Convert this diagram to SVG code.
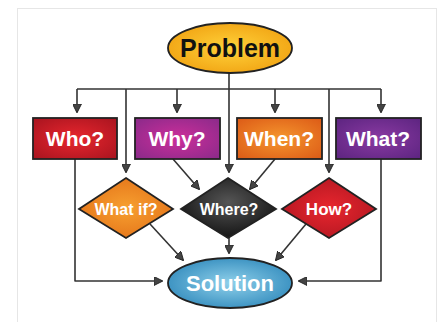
<svg xmlns="http://www.w3.org/2000/svg" width="441" height="322" viewBox="0 0 441 322">
<defs>
<marker id="ah" viewBox="0 0 10 10" refX="9" refY="5" markerWidth="9" markerHeight="9" markerUnits="userSpaceOnUse" orient="auto">
<path d="M0,0 L10,5 L0,10 Z" fill="#444" stroke="#222" stroke-width="1"/>
</marker>
<radialGradient id="gProb" cx="0.5" cy="0.5" r="0.6"><stop offset="0" stop-color="#ffd23a"/><stop offset="1" stop-color="#f0a010"/></radialGradient>
<radialGradient id="gSol" cx="0.5" cy="0.5" r="0.6"><stop offset="0" stop-color="#8fd0ea"/><stop offset="1" stop-color="#2e88bb"/></radialGradient>
<radialGradient id="gWho" cx="0.5" cy="0.5" r="0.7"><stop offset="0" stop-color="#e8262e"/><stop offset="1" stop-color="#a8141f"/></radialGradient>
<radialGradient id="gWhy" cx="0.5" cy="0.5" r="0.7"><stop offset="0" stop-color="#cc2e9a"/><stop offset="1" stop-color="#8a2a8a"/></radialGradient>
<radialGradient id="gWhen" cx="0.5" cy="0.5" r="0.7"><stop offset="0" stop-color="#f5962e"/><stop offset="1" stop-color="#dc5a16"/></radialGradient>
<radialGradient id="gWhat" cx="0.5" cy="0.5" r="0.7"><stop offset="0" stop-color="#8a3aa2"/><stop offset="1" stop-color="#5c2480"/></radialGradient>
<radialGradient id="gWif" cx="0.5" cy="0.5" r="0.7"><stop offset="0" stop-color="#f7a030"/><stop offset="1" stop-color="#e06a14"/></radialGradient>
<radialGradient id="gWhere" cx="0.5" cy="0.4" r="0.7"><stop offset="0" stop-color="#555"/><stop offset="1" stop-color="#0a0a0a"/></radialGradient>
<radialGradient id="gHow" cx="0.5" cy="0.5" r="0.7"><stop offset="0" stop-color="#e8262e"/><stop offset="1" stop-color="#a8141f"/></radialGradient>
</defs>
<style>
.ln{fill:none;stroke:#333;stroke-width:1.6;stroke-linejoin:round}
.shape{stroke:#222;stroke-width:1.8}
.t{font-family:"Liberation Sans",Arial,sans-serif;font-weight:bold;text-anchor:middle;fill:#fff}
</style>
<rect x="17.5" y="8.5" width="419" height="320" fill="#fff" stroke="#e6e6e6"/>
<g id="connectors">
<path class="ln" d="M229,73 V89"/>
<path class="ln" d="M77,89 H381"/>
<path class="ln" d="M77,89 V112" marker-end="url(#ah)"/>
<path class="ln" d="M177,89 V112" marker-end="url(#ah)"/>
<path class="ln" d="M275,89 V112" marker-end="url(#ah)"/>
<path class="ln" d="M381,89 V112" marker-end="url(#ah)"/>
<path class="ln" d="M126,89 V172" marker-end="url(#ah)"/>
<path class="ln" d="M229,89 V172" marker-end="url(#ah)"/>
<path class="ln" d="M329,89 V172" marker-end="url(#ah)"/>
<path class="ln" d="M173,159 L199,189" marker-end="url(#ah)"/>
<path class="ln" d="M275,159 L250,189" marker-end="url(#ah)"/>
<path class="ln" d="M150,224 L183,260" marker-end="url(#ah)"/>
<path class="ln" d="M229,237 V253" marker-end="url(#ah)"/>
<path class="ln" d="M306,224 L276,260" marker-end="url(#ah)"/>
<path class="ln" d="M75,159 V281 H162" marker-end="url(#ah)"/>
<path class="ln" d="M381,159 V281 H299" marker-end="url(#ah)"/>
</g>
<g id="problem">
<ellipse class="shape" cx="230" cy="48" rx="62" ry="25" fill="url(#gProb)"/>
<text class="t" x="230" y="57" font-size="25" style="fill:#111">Problem</text>
</g>
<g id="who">
<rect class="shape" x="33" y="118" width="84" height="41" fill="url(#gWho)"/>
<text class="t" x="75" y="146" font-size="21">Who?</text>
</g>
<g id="why">
<rect class="shape" x="135" y="118" width="85" height="41" fill="url(#gWhy)"/>
<text class="t" x="177" y="146" font-size="21">Why?</text>
</g>
<g id="when">
<rect class="shape" x="237" y="118" width="85" height="41" fill="url(#gWhen)"/>
<text class="t" x="279" y="146" font-size="21">When?</text>
</g>
<g id="what">
<rect class="shape" x="336" y="118" width="85" height="41" fill="url(#gWhat)"/>
<text class="t" x="378" y="146" font-size="21">What?</text>
</g>
<g id="whatif">
<polygon class="shape" points="126,178 173,209 126,238 79,209" fill="url(#gWif)"/>
<text class="t" x="126" y="215" font-size="16">What if?</text>
</g>
<g id="where">
<polygon class="shape" points="228,178 276,209 228,238 181,209" fill="url(#gWhere)"/>
<text class="t" x="229" y="215" font-size="16">Where?</text>
</g>
<g id="how">
<polygon class="shape" points="329,178 376,209 329,238 282,209" fill="url(#gHow)"/>
<text class="t" x="329" y="215" font-size="17">How?</text>
</g>
<g id="solution">
<ellipse class="shape" cx="230" cy="283" rx="62" ry="25" fill="url(#gSol)"/>
<text class="t" x="230" y="291" font-size="22">Solution</text>
</g>
</svg>
